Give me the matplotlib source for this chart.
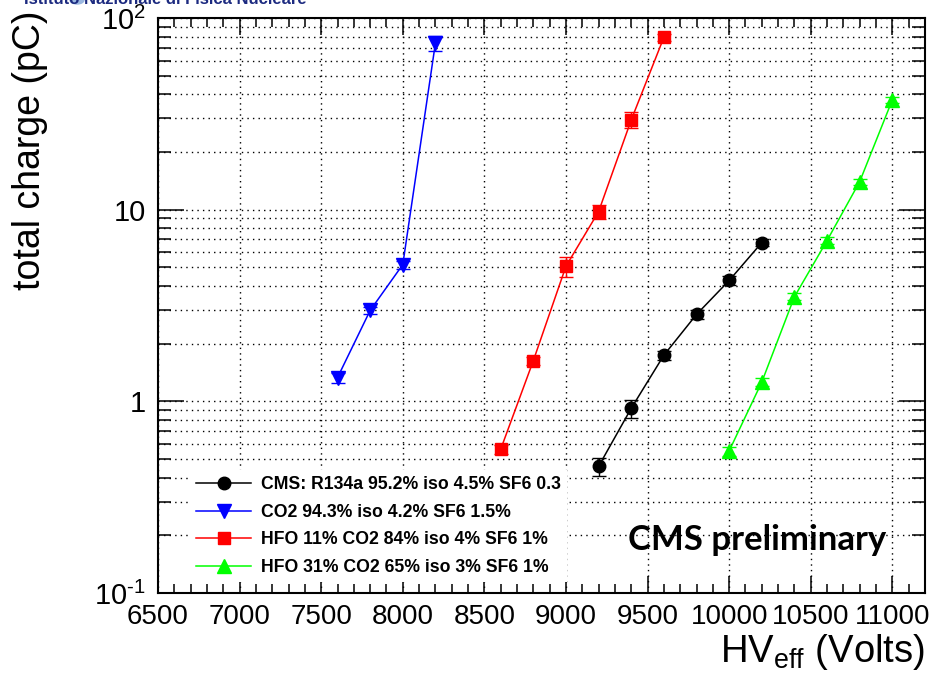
import matplotlib
matplotlib.use('Agg')
import matplotlib.pyplot as plt
from matplotlib.patches import Ellipse
from matplotlib.ticker import MultipleLocator, LogLocator, FixedLocator, NullFormatter


plt.rc('font', family='Liberation Sans')
plt.rc('mathtext', fontset='custom', rm='Liberation Sans', default='regular')
plt.rc('axes', linewidth=1.5, unicode_minus=False)

# total charge vs effective HV for the four gas mixtures
hv_cms = [9200, 9400, 9600, 9800, 10000, 10200]
q_cms = [0.458, 0.92, 1.74, 2.84, 4.27, 6.73]
err_cms = [0.05, 0.10, 0.10, 0.15, 0.22, 0.30]

hv_co2 = [7600, 7800, 8000, 8200]
q_co2 = [1.33, 2.98, 5.17, 74.0]
err_co2 = [0.08, 0.12, 0.25, 7.0]

hv_hfo11 = [8600, 8800, 9000, 9200, 9400, 9600]
q_hfo11 = [0.562, 1.63, 5.07, 9.77, 29.4, 79.3]
err_hfo11 = [0.03, 0.08, 0.6, 0.8, 2.8, 3.0]

hv_hfo31 = [10000, 10200, 10400, 10600, 10800, 11000]
q_hfo31 = [0.551, 1.26, 3.51, 6.9, 14.0, 37.4]
err_hfo31 = [0.03, 0.06, 0.15, 0.3, 0.5, 1.2]

lbl = ['CMS: R134a 95.2% iso 4.5% SF6 0.3',
       'CO2 94.3% iso 4.2% SF6 1.5%',
       'HFO 11% CO2 84% iso 4% SF6 1%',
       'HFO 31% CO2 65% iso 3% SF6 1%']

ytick_vals = [0.1, 1, 10, 100]
ytick_lbl = ['$10^{\u20101}$', '1', '10', '$10^{2}$']

fig = plt.figure(figsize=(9.30, 6.74), dpi=100)
ax = fig.add_axes([0.1699, 0.1202, 0.8247, 0.8531])

ax.set_yscale('log')
ax.set_xlim(6500, 11200)
ax.set_ylim(0.1, 100)

ax.xaxis.set_major_locator(MultipleLocator(500))
ax.xaxis.set_minor_locator(MultipleLocator(100))
ax.yaxis.set_major_locator(FixedLocator(ytick_vals))
ax.yaxis.set_minor_locator(LogLocator(base=10, subs=range(2, 10)))
ax.set_yticklabels(ytick_lbl)
ax.yaxis.set_minor_formatter(NullFormatter())

ax.tick_params(axis='x', which='major', direction='in', length=12, width=1.1,
               labelsize=20, pad=8, top=True)
ax.tick_params(axis='x', which='minor', direction='in', length=6.5, width=1.1, top=True)
ax.tick_params(axis='y', which='major', direction='in', length=19, width=1.1,
               labelsize=21, pad=9, right=True)
ax.tick_params(axis='y', which='minor', direction='in', length=9.5, width=1.1, right=True)

ax.grid(True, which='major', axis='x', color='k', linestyle=(0, (1, 3)), linewidth=1)
ax.grid(True, which='both', axis='y', color='k', linestyle=(0, (1, 3)), linewidth=1)
ax.set_axisbelow(True)

sets = [(hv_cms, q_cms, err_cms, 'k', 'o', 9),
        (hv_co2, q_co2, err_co2, 'b', 'v', 9.5),
        (hv_hfo11, q_hfo11, err_hfo11, 'r', 's', 8.5),
        (hv_hfo31, q_hfo31, err_hfo31, '#00ff00', '^', 9.5)]

for i, (x, y, e, c, m, ms) in enumerate(sets):
    ax.errorbar(x, y, yerr=e, fmt='none', ecolor=c, elinewidth=1, capsize=5, zorder=3)
    ax.plot(x, y, color=c, marker=m, markersize=ms, linewidth=1.1, label=lbl[i], zorder=4)

leg = ax.legend(loc='upper left', bbox_to_anchor=(0.0417, 0.2140), borderaxespad=0,
                prop={'size': 12.7, 'weight': 'bold'}, frameon=True, fancybox=False,
                framealpha=1, edgecolor='none', handlelength=3.1, handletextpad=0.6,
                labelspacing=0.6, borderpad=0.35)
leg.set_zorder(5)

fig.text(628/930, (674-550)/674, 'CMS preliminary', family='Lato', weight='bold',
         fontsize=25, ha='left', va='baseline')

fig.text(925/930, (674-662)/674, r'$\mathregular{HV_{eff}}$ (Volts)', fontsize=27.5,
         ha='right', va='baseline')
fig.text(30/930, (674-10)/674, 'total charge (pC)', fontsize=27, rotation=90,
         ha='center', va='top')

# institute header, cut by the top edge
fig.text(307/930, (674-4)/674, 'Istituto Nazionale di Fisica Nucleare', color='#1c2a80',
         fontsize=12, weight='bold', ha='right', va='baseline')
fig.add_artist(Ellipse((77/930, 1.0), 14/930, 8/674, color='#9bb8e0',
                       transform=fig.transFigure))

fig.savefig('out.png', dpi=100)
